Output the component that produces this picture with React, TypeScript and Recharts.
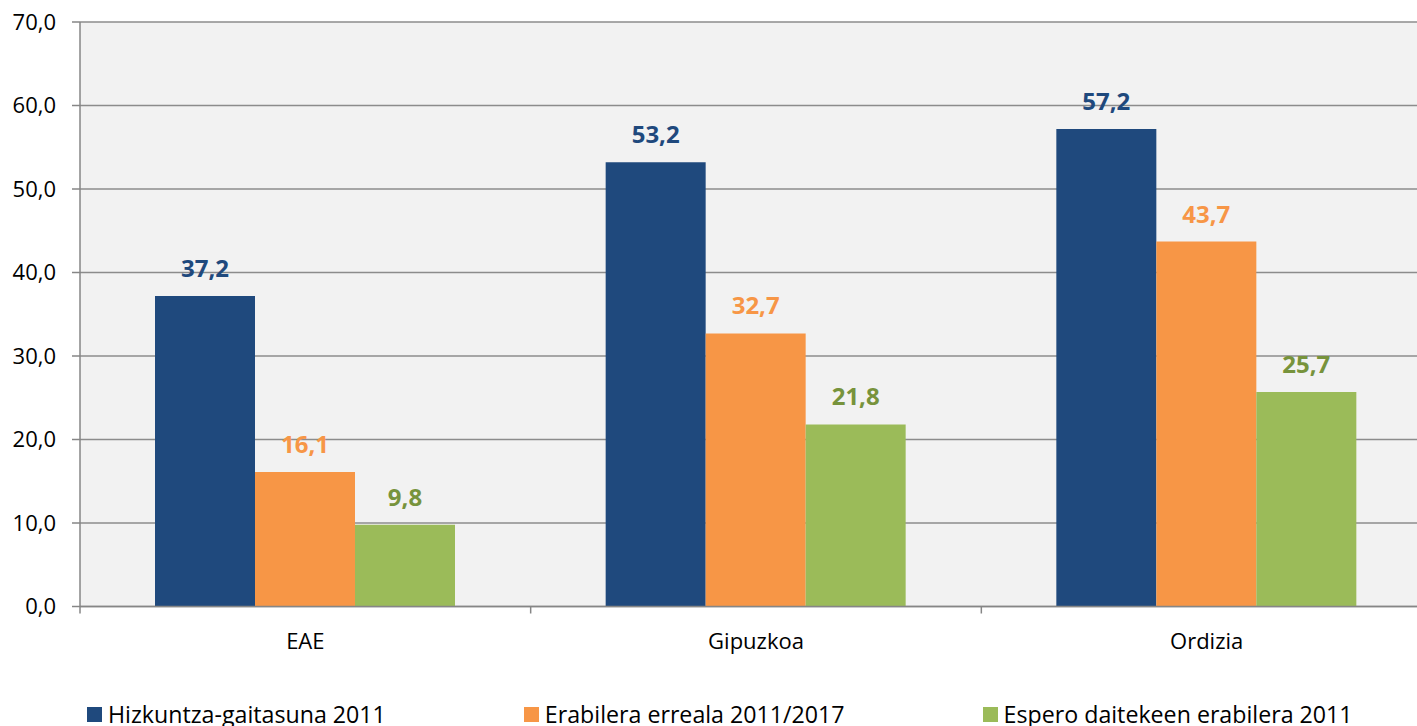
import React from 'react';
import { BarChart, Bar, XAxis, YAxis, CartesianGrid, LabelList } from 'recharts';

const categories = ['EAE', 'Gipuzkoa', 'Ordizia'];
const gaitasuna = [37.2, 53.2, 57.2];
const erabilera = [16.1, 32.7, 43.7];
const espero = [9.8, 21.8, 25.7];
const yTicks = [0, 10, 20, 30, 40, 50, 60, 70];

const series = [
  { key: 'gaitasuna', name: 'Hizkuntza-gaitasuna 2011', color: '#1F497D', labelColor: '#1F497D' },
  { key: 'erabilera', name: 'Erabilera erreala 2011/2017', color: '#F79646', labelColor: '#F79646' },
  { key: 'espero', name: 'Espero daitekeen erabilera 2011', color: '#9BBB59', labelColor: '#77933C' },
];

const data = categories.map((c, i) => ({
  name: c,
  gaitasuna: gaitasuna[i],
  erabilera: erabilera[i],
  espero: espero[i],
}));

const fmt = (v: any) => Number(v).toFixed(1).replace('.', ',');
const FONT = '"Open Sans", sans-serif';
const AXIS_COLOR = '#868686';

const XTick = (props: any) => {
  const { x, y, payload, index } = props;
  const off = payload && payload.offset ? payload.offset : 225;
  const last = index === categories.length - 1;
  return (
    <g>
      <line x1={x - off} y1={y} x2={x - off} y2={y + 7} stroke={AXIS_COLOR} strokeWidth={1.5} />
      {last && <line x1={x + off} y1={y} x2={x + off} y2={y + 7} stroke={AXIS_COLOR} strokeWidth={1.5} />}
      <text x={x} y={y + 42} textAnchor="middle" fill="#000" fontSize={22} fontFamily={FONT}>
        {payload.value}
      </text>
    </g>
  );
};

export default function App() {
  return (
    <div style={{ position: 'absolute', left: 0, top: 0, width: 1417, height: 726, overflow: 'hidden', background: '#fff' }}>
      <BarChart
        width={1440}
        height={726}
        data={data}
        margin={{ top: 22, right: 8, left: 0, bottom: 79.5 }}
        barGap={0}
      >
        <CartesianGrid
          vertical={false}
          stroke="#8C8C8C"
          strokeWidth={1.5}
          fill="#F2F2F2"
          fillOpacity={1}
        />
        <XAxis
          dataKey="name"
          height={40}
          tickLine={false}
          tickSize={0}
          tickMargin={0}
          axisLine={{ stroke: AXIS_COLOR, strokeWidth: 1.5 }}
          tick={<XTick />}
          interval={0}
        />
        <YAxis
          width={80}
          domain={[0, 70]}
          ticks={yTicks}
          tickFormatter={fmt}
          tickSize={8}
          tickMargin={16}
          axisLine={{ stroke: AXIS_COLOR, strokeWidth: 1.5 }}
          tickLine={{ stroke: AXIS_COLOR, strokeWidth: 1.5 }}
          tick={{ fill: '#000', fontSize: 22, fontFamily: FONT }}
          interval={0}
        />
        {series.map((s) => (
          <Bar key={s.key} dataKey={s.key} name={s.name} fill={s.color} barSize={100} isAnimationActive={false}>
            <LabelList
              dataKey={s.key}
              position="top"
              offset={19}
              formatter={fmt}
              fill={s.labelColor}
              style={{ fontSize: 24, fontWeight: 700, fontFamily: FONT, fill: s.labelColor }}
            />
          </Bar>
        ))}
      </BarChart>
      <div
        style={{
          position: 'absolute',
          left: 87,
          top: 699,
          display: 'flex',
          alignItems: 'center',
          gap: 138,
          fontFamily: FONT,
          fontSize: 23.2,
          color: '#000',
          whiteSpace: 'nowrap',
          lineHeight: '30px',
        }}
      >
        {series.map((s) => (
          <div key={s.key} style={{ display: 'flex', alignItems: 'center' }}>
            <span style={{ display: 'inline-block', width: 15, height: 15, background: s.color, marginRight: 6 }} />
            <span>{s.name}</span>
          </div>
        ))}
      </div>
    </div>
  );
}
